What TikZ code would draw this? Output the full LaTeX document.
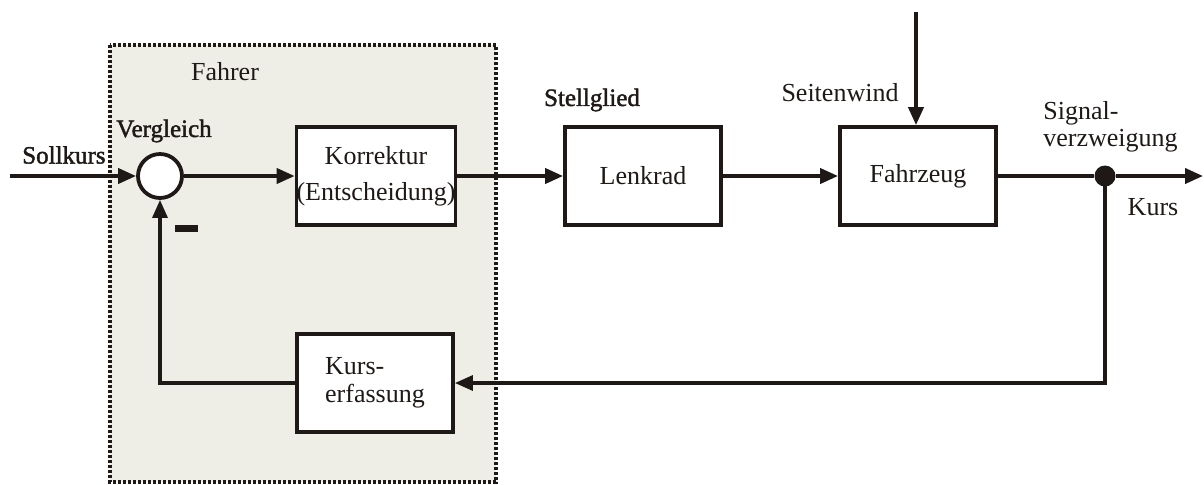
\documentclass[tikz,border=0pt]{standalone}
\usepackage{fontspec}
\setmainfont{Liberation Serif}
\newfontfamily\semibold[FakeBold=1.6]{Liberation Serif}
\usetikzlibrary{arrows.meta}
\definecolor{panel}{RGB}{238,237,230}
\definecolor{ink}{RGB}{30,25,22}
\begin{document}
\begin{tikzpicture}[x=0.5pt,y=-0.5pt,
  txt/.style={font=\fontsize{13}{14}\selectfont, text=ink},
  blk/.style={draw=ink, line width=1.9pt, fill=white, minimum width=78pt, minimum height=49pt, inner sep=0pt, align=center, txt},
  lbl/.style={txt, inner sep=0pt},
  blbl/.style={font=\semibold\fontsize{12.5}{14}\selectfont, text=ink, inner sep=0pt},
  tip/.style={-{Triangle[length=9pt,width=7.5pt]}},
  sig/.style={draw=ink, line width=1.9pt, tip},
  fb/.style={draw=ink, line width=1.6pt, tip},
  panelbox/.style={fill=panel, draw=ink, line width=1.8pt, dash pattern=on 1.5pt off 1pt}]
\useasboundingbox (0,0) rectangle (1204,484);
\draw[panelbox] (110,45) rectangle (496,482);
% blocks
\node[blk] (korr) at (376,176) {Korrektur\\[4pt](Entscheidung)};
\node[blk] (lenk) at (643,176) {Lenkrad};
\node[blk] (fz) at (918,176) {Fahrzeug};
\node[blk, align=left] (ke) at (375,383) {Kurs-\\erfassung};
\node[draw=ink, circle, line width=1.9pt, fill=white, minimum size=22pt, inner sep=0pt] (cmp) at (160,176) {};
\node[fill=ink, circle, minimum size=10.5pt, inner sep=0pt] (br) at (1105,176) {};
\node[fill=ink, minimum width=11.5pt, minimum height=3.5pt, inner sep=0pt] (minus) at (186,228) {};
\coordinate (in) at (10,176);
\coordinate (out) at (1203,176);
\coordinate (wind) at (916,12);
% labels
\node[blbl, anchor=east] (soll) at (106,155) {Sollkurs};
\node[blbl] (vgl) at (164,131) {Vergleich};
\node[lbl] (fahrer) at (225,72) {Fahrer};
\node[blbl] (stell) at (592,100) {Stellglied};
\node[lbl] (sw) at (840,93) {Seitenwind};
\node[lbl, anchor=west, align=left, font=\fontsize{13}{13.5}\selectfont] (sv) at (1043,127) {Signal-\\verzweigung};
\node[lbl] (kurs) at (1153,207) {Kurs};
% connectors
\draw[sig] (in) -- (cmp);
\draw[sig] (cmp) -- (korr);
\draw[sig] (korr) -- (lenk);
\draw[sig] (lenk) -- (fz);
\draw[sig] (wind) -- (wind |- fz.north);
\draw[sig, -] (fz) -- (br);
\draw[sig] (br) -- (out);
\draw[fb] (br.center) |- (ke.east);
\draw[fb] (ke.west) -| (cmp.south);
\end{tikzpicture}
\end{document}
